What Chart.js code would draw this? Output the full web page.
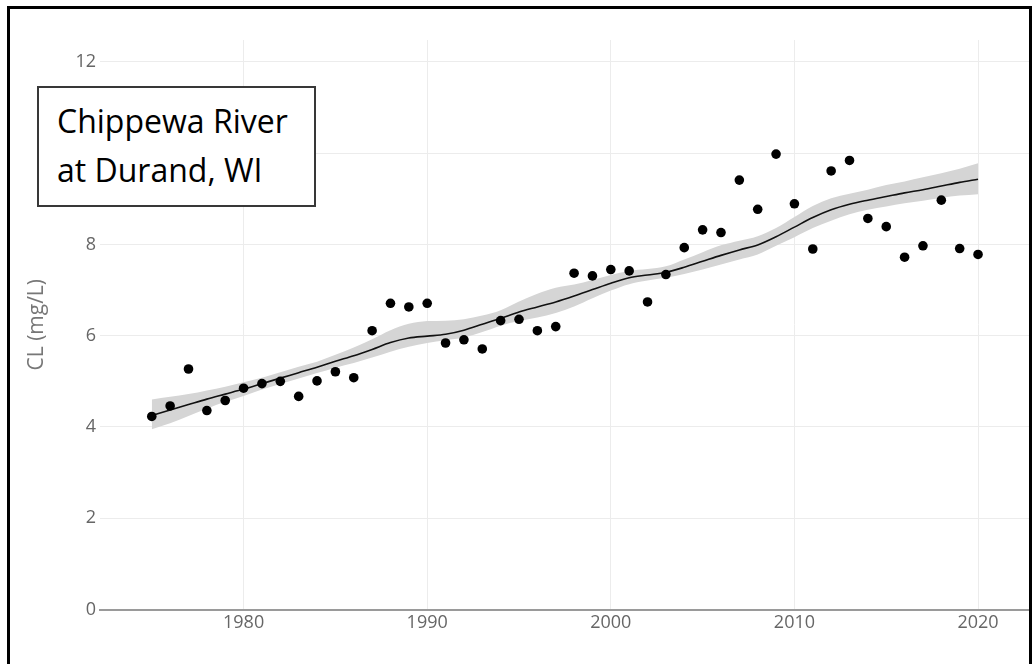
<!DOCTYPE html>
<html>
<head>
<meta charset="utf-8">
<script src="https://cdn.jsdelivr.net/npm/chart.js@4/dist/chart.umd.min.js"></script>
<style>
  html, body { margin: 0; padding: 0; background: #fff; }
  #wrap { position: relative; width: 1036px; height: 664px; overflow: hidden; }
  #c { position: absolute; left: 0; top: 0; }
  #frame { position: absolute; left: 7px; top: 6px; width: 1025px; height: 700px; box-sizing: border-box; border: 3px solid #000; pointer-events: none; }
  #label { position: absolute; left: 37px; top: 86px; width: 279px; height: 121px; box-sizing: border-box; border: 2px solid #383838; background: #fff;
           padding: 8px 0 0 18px; font-family: "Open Sans", sans-serif; font-size: 32px; line-height: 49px; color: #000; white-space: nowrap; }
</style>
</head>
<body>
<div id="wrap">
  <canvas id="c" width="1036" height="664"></canvas>
  <div id="label">Chippewa River<br>at Durand, WI</div>
  <div id="frame"></div>
</div>
<script>
const years = [1975,1976,1977,1978,1979,1980,1981,1982,1983,1984,1985,1986,1987,1988,1989,1990,1991,1992,1993,1994,1995,1996,1997,1998,1999,2000,2001,2002,2003,2004,2005,2006,2007,2008,2009,2010,2011,2012,2013,2014,2015,2016,2017,2018,2019,2020];
const observed = [4.23,4.46,5.27,4.36,4.58,4.85,4.95,5.00,4.67,5.01,5.21,5.08,6.11,6.71,6.63,6.71,5.84,5.91,5.71,6.33,6.36,6.11,6.20,7.37,7.31,7.45,7.42,6.74,7.34,7.93,8.32,8.26,9.41,8.77,9.98,8.89,7.90,9.61,9.84,8.57,8.39,7.72,7.97,8.97,7.91,7.78];
const trend = [4.25,4.37,4.49,4.61,4.72,4.83,4.95,5.07,5.19,5.31,5.44,5.56,5.70,5.85,5.95,5.99,6.03,6.12,6.25,6.38,6.52,6.63,6.74,6.87,7.01,7.15,7.27,7.33,7.39,7.50,7.63,7.76,7.88,7.99,8.17,8.38,8.59,8.76,8.88,8.97,9.05,9.13,9.20,9.28,9.36,9.43];
const upper = [4.60,4.66,4.72,4.80,4.88,4.98,5.08,5.20,5.32,5.43,5.58,5.74,5.92,6.12,6.26,6.32,6.33,6.36,6.44,6.56,6.75,6.92,7.05,7.12,7.22,7.33,7.42,7.46,7.52,7.67,7.83,7.98,8.08,8.18,8.36,8.60,8.84,9.01,9.11,9.20,9.30,9.38,9.47,9.56,9.66,9.78];
const lower = [3.95,4.08,4.24,4.40,4.55,4.68,4.82,4.94,5.06,5.18,5.30,5.40,5.52,5.65,5.76,5.84,5.90,5.96,6.08,6.22,6.32,6.40,6.50,6.64,6.82,6.99,7.13,7.21,7.27,7.35,7.45,7.56,7.67,7.78,7.97,8.16,8.36,8.52,8.66,8.76,8.83,8.90,8.96,9.02,9.07,9.10];
const xTicks = [1980,1990,2000,2010,2020];
const yTicks = [0,2,4,6,8,10,12];
const yTitle = "CL (mg/L)";

const pts = arr => years.map((yr, i) => ({x: yr, y: arr[i]}));
const tickFont = {family: "'Open Sans', sans-serif", size: 18};

new Chart(document.getElementById('c'), {
  type: 'scatter',
  data: {
    datasets: [
      { label: 'lower', data: pts(lower), showLine: true, pointRadius: 0, borderWidth: 0, borderColor: 'rgba(0,0,0,0)', fill: false, tension: 0.4, cubicInterpolationMode: 'monotone', order: 4 },
      { label: 'upper', data: pts(upper), showLine: true, pointRadius: 0, borderWidth: 0, borderColor: 'rgba(0,0,0,0)', backgroundColor: '#d5d5d5', fill: '-1', tension: 0.4, cubicInterpolationMode: 'monotone', order: 3 },
      { label: 'trend', data: pts(trend), showLine: true, pointRadius: 0, borderWidth: 1.6, borderColor: '#111', fill: false, tension: 0.4, cubicInterpolationMode: 'monotone', order: 2 },
      { label: 'obs', data: pts(observed), showLine: false, pointRadius: 4.8, pointBackgroundColor: '#000', pointBorderColor: '#000', pointBorderWidth: 0, order: 1 }
    ]
  },
  options: {
    responsive: false,
    animation: false,
    layout: { padding: { left: 0, right: 6, top: 40, bottom: 0 } },
    plugins: { legend: { display: false }, tooltip: { enabled: false } },
    scales: {
      x: {
        type: 'linear', min: 1972.18, max: 2022.83,
        afterBuildTicks: s => { s.ticks = xTicks.map(v => ({value: v})); },
        afterFit: s => { s.height = 54.5; },
        grid: { color: '#ececec', lineWidth: 1, drawTicks: false },
        border: { display: true, color: '#9a9a9a', width: 2 },
        ticks: { font: tickFont, color: '#666', padding: 3, maxRotation: 0, callback: v => String(v) }
      },
      y: {
        type: 'linear', min: 0, max: 12.48,
        afterBuildTicks: s => { s.ticks = yTicks.map(v => ({value: v})); },
        afterFit: s => { s.width = 100; },
        grid: { color: '#ececec', lineWidth: 1, drawTicks: false },
        border: { display: false },
        ticks: { font: tickFont, color: '#666', padding: 4, callback: v => String(v) },
        title: { display: true, text: yTitle, font: {family: "'Open Sans', sans-serif", size: 21}, color: '#777', padding: { top: 24, bottom: 0 } }
      }
    }
  }
});
</script>
</body>
</html>
